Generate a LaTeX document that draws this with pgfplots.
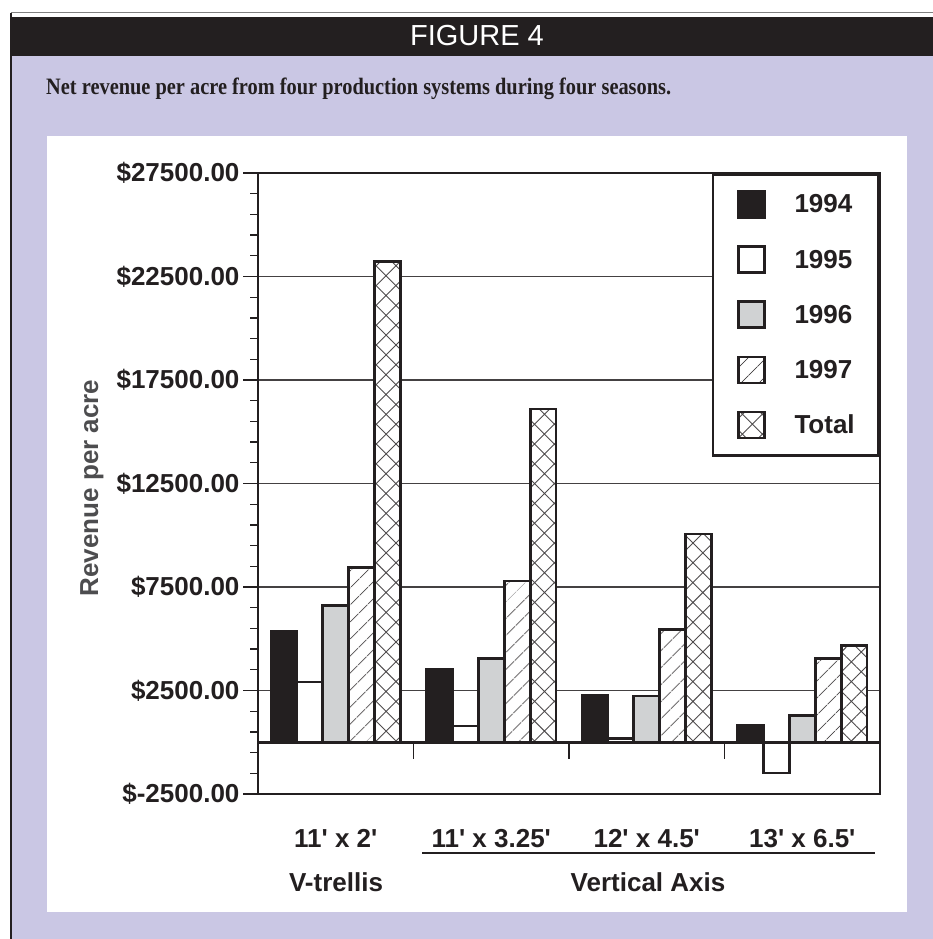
\documentclass[border=0pt]{standalone}
\usepackage{pgfplots}
\pgfplotsset{compat=1.18}
\usepackage{fontspec}
\usepackage{graphicx}
\usetikzlibrary{patterns.meta}
\setmainfont{Liberation Sans}
\newfontfamily\serifcap{Liberation Serif}
\definecolor{lav}{RGB}{202,199,228}
\definecolor{ink}{RGB}{35,31,32}
\definecolor{barg}{RGB}{208,210,211}
\definecolor{ylab}{RGB}{77,77,79}
\newcommand{\lf}{\fontsize{26}{30}\selectfont\bfseries}
\begin{document}
\begin{tikzpicture}
\path[use as bounding box] (0pt,0pt) rectangle (933pt,939pt);
\fill[lav] (11pt,0pt) rectangle (933pt,883pt);
\fill[ink] (11pt,883pt) rectangle (933pt,922pt);
\draw[gray, line width=1pt] (11pt,926pt) -- (933pt,926pt);
\draw[ink, line width=1.5pt] (11pt,0pt) -- (11pt,926pt);
\fill[white] (47pt,27pt) rectangle (907pt,803pt);
\node[text=white, font=\fontsize{29}{30}\selectfont] at (477pt,903pt) {FIGURE 4};
\node[anchor=base west, inner sep=0pt, text=ink] at (46pt,844pt) {\resizebox{625pt}{\height}{\serifcap\bfseries\fontsize{23.5}{24}\selectfont Net revenue per acre from four production systems during four seasons.}};
\begin{axis}[
  at={(258pt,145pt)}, anchor=south west, scale only axis,
  width=622pt, height=621pt,
  ybar,
  xmin=-0.5, xmax=3.5, ymin=-2500, ymax=27500,
  scaled y ticks=false,
  axis line style={line width=2.6pt, ink},
  xtick={0,1,2,3},
  xticklabels={11\textquotesingle{} x 2\textquotesingle, 11\textquotesingle{} x 3.25\textquotesingle, 12\textquotesingle{} x 4.5\textquotesingle, 13\textquotesingle{} x 6.5\textquotesingle},
  xtick style={draw=none},
  xticklabel style={anchor=base, yshift=-39pt, font=\lf, text=ink},
  ytick={-2500,2500,7500,12500,17500,22500,27500},
  yticklabels={\$-2500.00,\$2500.00,\$7500.00,\$12500.00,\$17500.00,\$22500.00,\$27500.00},
  minor y tick num=4,
  tick align=outside, ytick pos=left,
  major tick length=15pt, minor tick length=8pt,
  ytick style={line width=1.3pt, ink},
  yticklabel style={font=\lf, text=ink},
  ymajorgrids, major grid style={line width=1.3pt, ink!85},
  legend style={at={(1,1)}, anchor=north east, draw=ink, line width=2.6pt, fill=white,
    font=\lf, text=ink, inner xsep=24pt, inner ysep=16pt, row sep=26.5pt, column sep=29pt,
    nodes={inner sep=0pt}},
  legend cell align=left,
  legend image code/.code={\draw[#1, line width=2.6pt] (0pt,-13pt) rectangle (26pt,13pt);},
]
\addplot[bar width=0.167, bar shift=-0.334, fill=ink, draw=ink, line width=2.6pt]
  coordinates {(0,5370) (1,3515) (2,2290) (3,825)};
\addplot[bar width=0.167, bar shift=-0.167, fill=white, draw=ink, line width=2.6pt]
  coordinates {(0,2920) (1,790) (2,195) (3,-1480)};
\addplot[bar width=0.167, bar shift=0, fill=barg, draw=ink, line width=2.6pt]
  coordinates {(0,6600) (1,4035) (2,2225) (3,1305)};
\addplot[bar width=0.167, bar shift=0.167, fill=white, draw=ink, line width=2.6pt,
  postaction={pattern={Lines[angle=45,distance=13pt,line width=0.9pt]}, pattern color=ink!80}]
  coordinates {(0,8450) (1,7790) (2,5440) (3,4050)};
\addplot[bar width=0.167, bar shift=0.334, fill=white, draw=ink, line width=2.6pt,
  postaction={pattern={Hatch[angle=45,distance=14pt,line width=0.9pt]}, pattern color=ink!80}]
  coordinates {(0,23225) (1,16100) (2,10065) (3,4665)};
\legend{1994,1995,1996,1997,Total}
\draw[ink, line width=2.6pt] (axis cs:-0.5,0) -- (axis cs:3.5,0);
\draw[ink, line width=1.3pt] (axis cs:0.5,0) -- ++(0pt,-17pt);
\draw[ink, line width=1.3pt] (axis cs:1.5,0) -- ++(0pt,-17pt);
\draw[ink, line width=1.3pt] (axis cs:2.5,0) -- ++(0pt,-17pt);
\end{axis}
\node[rotate=90, font=\lf, text=ylab] at (92pt,451pt) {Revenue per acre};
\node[anchor=base, font=\lf, text=ink, inner sep=0pt] at (336pt,47pt) {V-trellis};
\node[anchor=base, font=\lf, text=ink, inner sep=0pt] at (648pt,47pt) {Vertical Axis};
\draw[ink, line width=2.2pt] (422pt,86pt) -- (875pt,86pt);
\end{tikzpicture}
\end{document}
